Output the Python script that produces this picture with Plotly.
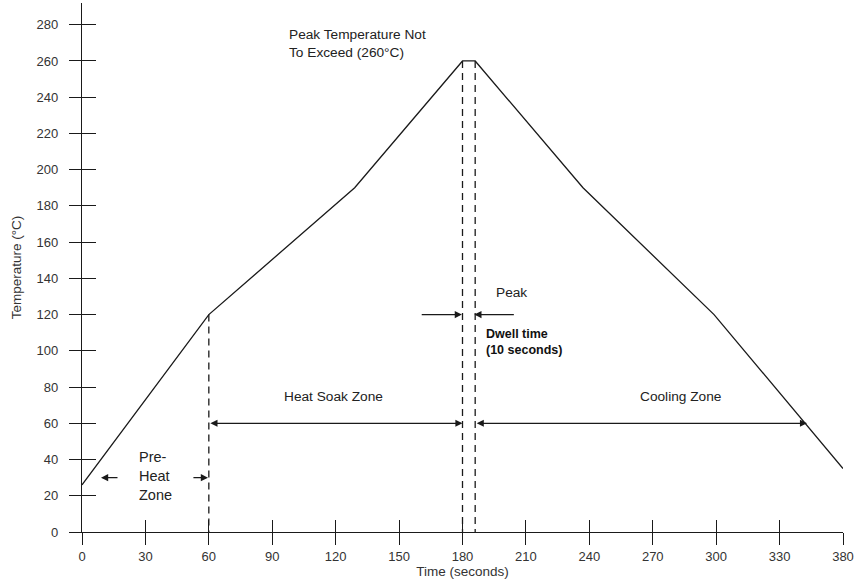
import plotly.graph_objects as go

# ---- data ----
time_s = [0, 60, 129, 180, 186, 237, 299, 360]
temp_c = [26, 120, 190, 260, 260, 190, 120, 35]

x_ticks = [0, 30, 60, 90, 120, 150, 180, 210, 240, 270, 300, 330, 360]
x_ticklabels = ["0", "30", "60", "90", "120", "150", "180", "210", "240", "270", "300", "330", "380"]
y_ticks = [0, 20, 40, 60, 80, 100, 120, 140, 160, 180, 200, 220, 240, 260, 280]

# zone boundaries (dashed verticals): (time, top temperature)
zone_lines_t = [60, 180, 186]
zone_lines_top = [120, 260, 260]

# zone arrows (time start, time end, temperature)
heat_soak = (60, 180, 60)
cooling = (186, 343, 60)

INK = "#1a1a1a"
SANS = "Liberation Sans, Arial, sans-serif"
TICKFONT = dict(family=SANS, size=13, color="#333333")
NOTE = dict(family=SANS, size=13.7, color="#222222")
TITLEFONT = dict(family=SANS, size=13.5, color="#333333")

fig = go.Figure()

fig.add_trace(go.Scatter(x=time_s, y=temp_c, mode="lines",
                         line=dict(color=INK, width=1.3),
                         hoverinfo="skip", showlegend=False))

for t, top in zip(zone_lines_t, zone_lines_top):
    fig.add_trace(go.Scatter(x=[t, t], y=[top, 0], mode="lines",
                             line=dict(color=INK, width=1.3, dash="7px,5px"),
                             hoverinfo="skip", showlegend=False))

# invisible trace on the overlay axes (for crossing ticks)
fig.add_trace(go.Scatter(x=time_s, y=temp_c, xaxis="x2", yaxis="y2", mode="lines",
                         line=dict(width=0, color="rgba(0,0,0,0)"),
                         hoverinfo="skip", showlegend=False))

ann = []

def arrow(x_head, y_head, x_tail, y_tail, both=False):
    ann.append(dict(x=x_head, y=y_head, ax=x_tail, ay=y_tail, xref="x", yref="y",
                    axref="x", ayref="y", text="", showarrow=True,
                    arrowhead=2, arrowsize=1.1, arrowwidth=1.3, arrowcolor=INK,
                    arrowside="end+start" if both else "end",
                    standoff=0, startstandoff=0))

# zone arrows
arrow(heat_soak[1], heat_soak[2], heat_soak[0], heat_soak[2], both=True)
arrow(cooling[1], cooling[2], cooling[0], cooling[2], both=True)
# pre-heat arrows
arrow(9, 30, 17.5, 30)
arrow(59.6, 30, 52, 30)
# peak dwell arrows
arrow(179.7, 120, 160, 120)
arrow(185.6, 120, 205, 120)

ann += [
    dict(x=97, y=280, xref="x", yref="y", xanchor="left", yanchor="top", align="left",
         text="Peak Temperature Not<br>To Exceed (260°C)", showarrow=False, font=NOTE),
    dict(x=195, y=132, xref="x", yref="y", xanchor="left", yanchor="middle",
         text="Peak", showarrow=False, font=NOTE),
    dict(x=190, y=105, xref="x", yref="y", xanchor="left", yanchor="middle", align="left",
         text="Dwell time<br>(10 seconds)", showarrow=False,
         font=dict(family=SANS, size=12.5, color="#111111", weight="bold")),
    dict(x=119, y=75, xref="x", yref="y", xanchor="center", yanchor="middle",
         text="Heat Soak Zone", showarrow=False, font=NOTE),
    dict(x=283, y=75, xref="x", yref="y", xanchor="center", yanchor="middle",
         text="Cooling Zone", showarrow=False, font=NOTE),
    dict(x=26, y=31, xref="x", yref="y", xanchor="left", yanchor="middle", align="left",
         text="Pre-<br>Heat<br>Zone", showarrow=False,
         font=dict(family=SANS, size=14.5, color="#222222")),
]

fig.update_layout(
    width=854, height=581,
    margin=dict(l=82, r=11, t=3, b=49, autoexpand=False),
    paper_bgcolor="white", plot_bgcolor="white",
    showlegend=False,
    annotations=ann,
    xaxis=dict(range=[0, 360], showgrid=False, zeroline=False, automargin=False,
               showline=True, linecolor=INK, linewidth=1.3,
               tickmode="array", tickvals=x_ticks, ticktext=x_ticklabels,
               ticks="outside", ticklen=12, tickwidth=1.3, tickcolor=INK,
               tickfont=TICKFONT,
               title=dict(text="Time (seconds)", standoff=0, font=TITLEFONT)),
    yaxis=dict(range=[0, 292], showgrid=False, zeroline=False, automargin=False,
               showline=True, linecolor=INK, linewidth=1.3,
               tickmode="array", tickvals=y_ticks,
               ticks="outside", ticklen=12, tickwidth=1.3, tickcolor=INK,
               tickfont=TICKFONT, ticklabelstandoff=8,
               title=dict(text="Temperature (°C)", standoff=11, font=TITLEFONT)),
    xaxis2=dict(overlaying="x", anchor="y", side="bottom", range=[0, 360], automargin=False,
                showgrid=False, zeroline=False, showline=False,
                tickmode="array", tickvals=x_ticks, showticklabels=False,
                ticks="inside", ticklen=12, tickwidth=1.3, tickcolor=INK),
    yaxis2=dict(overlaying="y", anchor="x", side="left", range=[0, 292], automargin=False,
                showgrid=False, zeroline=False, showline=False,
                tickmode="array", tickvals=y_ticks, showticklabels=False,
                ticks="inside", ticklen=14, tickwidth=1.3, tickcolor=INK),
)

fig.write_html("out.html", config={"displayModeBar": False},
               post_script="document.body.style.margin='0';document.body.style.overflow='hidden';")
